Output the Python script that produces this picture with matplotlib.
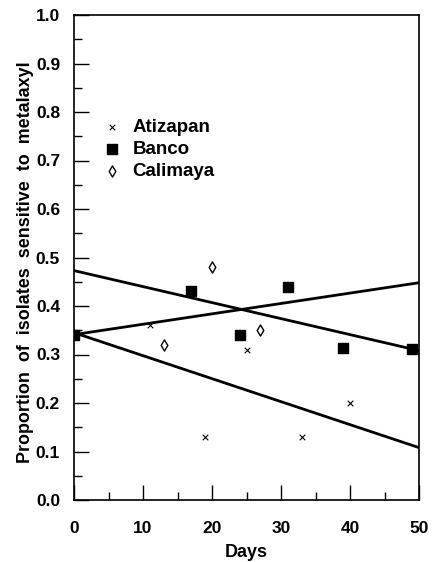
import matplotlib
matplotlib.use("Agg")
import matplotlib.pyplot as plt
import numpy as np

plt.rcParams['font.family'] = ['Liberation Sans', 'DejaVu Sans']
plt.rcParams['font.weight'] = 'bold'

# Data
atiz_days = [11, 19, 25, 33, 40]
atiz_vals = [0.36, 0.13, 0.31, 0.13, 0.20]
banco_days = [0, 17, 24, 31, 39, 49]
banco_vals = [0.34, 0.43, 0.34, 0.44, 0.314, 0.311]
cali_days = [13, 20, 27]
cali_vals = [0.32, 0.48, 0.35]

# Regression lines: value at day 0 and day 50
fit_days = [0, 50]
fit_atiz = [0.345, 0.108]
fit_banco = [0.473, 0.308]
fit_cali = [0.341, 0.448]

x_ticks = [0, 10, 20, 30, 40, 50]
y_ticks = [0.0, 0.1, 0.2, 0.3, 0.4, 0.5, 0.6, 0.7, 0.8, 0.9, 1.0]

fig = plt.figure(figsize=(4.41, 5.62), dpi=100)
ax = fig.add_axes([74/441, 1 - 500/562, (419-74)/441, (500-15)/562])

ax.plot(fit_days, fit_atiz, color='black', lw=2.0)
ax.plot(fit_days, fit_banco, color='black', lw=2.0)
ax.plot(fit_days, fit_cali, color='black', lw=2.0)

ax.scatter(atiz_days, atiz_vals, marker='x', s=16, color='black', linewidths=0.8, label='Atizapan', zorder=3)
ax.scatter(banco_days, banco_vals, marker='s', s=60, color='black', label='Banco', zorder=3)
ax.scatter(cali_days, cali_vals, marker='d', s=32, facecolors='white', edgecolors='black', linewidths=1.0, label='Calimaya', zorder=3)

ax.set_xlim(0, 50)
ax.set_ylim(0, 1.0)
ax.set_xticks(x_ticks)
ax.set_xticks([5, 15, 25, 35, 45], minor=True)
ax.set_yticks(y_ticks)
ax.set_yticks(np.arange(0.05, 1.0, 0.1), minor=True)
ax.set_xticklabels([str(t) for t in x_ticks], fontsize=12.5, fontweight='bold')
ax.set_yticklabels([f"{t:.1f}" for t in y_ticks], fontsize=12.5, fontweight='bold')
ax.tick_params(axis='both', which='major', direction='in', length=11, width=1.0)
ax.tick_params(axis='both', which='minor', direction='in', length=6, width=1.0)
ax.tick_params(axis='x', which='major', pad=15)
ax.tick_params(axis='y', which='major', pad=10)
for sp in ax.spines.values():
    sp.set_linewidth(1.2)

ax.set_xlabel('Days', fontsize=13, fontweight='bold', labelpad=6)
ax.set_ylabel('Proportion  of  isolates  sensitive  to  metalaxyl', fontsize=12.9, fontweight='bold')
ax.yaxis.set_label_coords(-0.115, 0.49)

leg = ax.legend(loc='upper left', bbox_to_anchor=(0.028, 0.82), frameon=False,
                prop={'size': 13.5, 'weight': 'bold'}, handletextpad=0.5,
                labelspacing=0.25, handlelength=1.2, scatterpoints=1)

fig.savefig('out.png', dpi=100)
